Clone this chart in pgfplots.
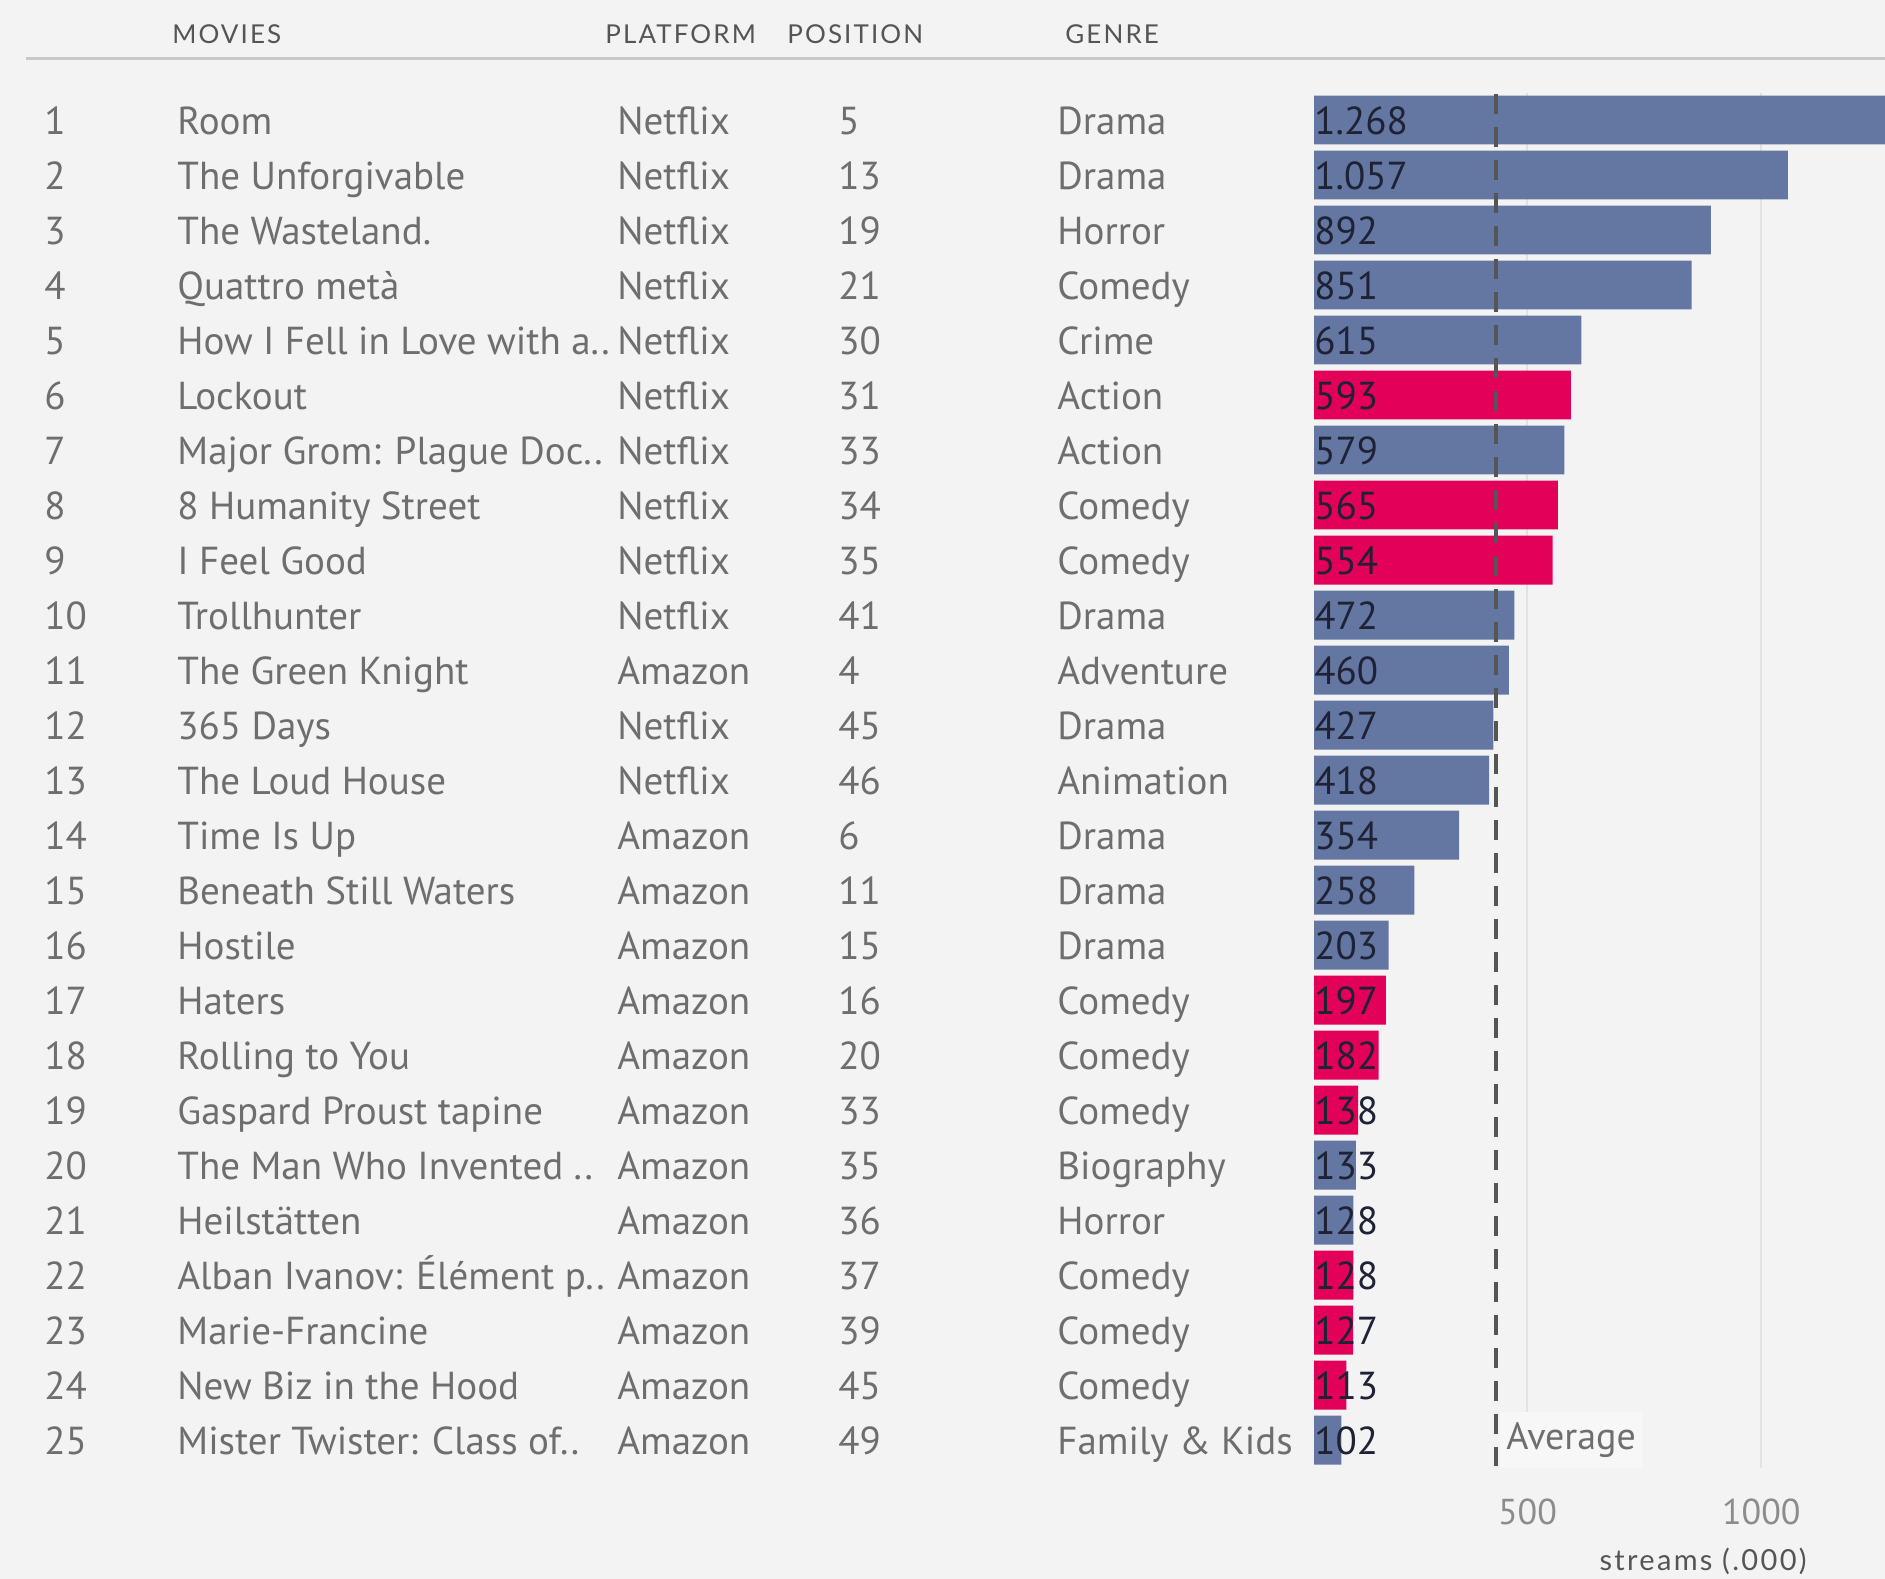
\documentclass[border=0pt]{standalone}
\usepackage{pgfplots}
\pgfplotsset{compat=1.18}
\usepackage{pgfplotstable}
\usepackage{fontspec}
\setmainfont{PT Sans}
\newfontfamily\hdfont{Lato}[LetterSpace=8.0]

\definecolor{bg}{RGB}{243,243,243}
\definecolor{barblue}{RGB}{100,119,162}
\definecolor{barpink}{RGB}{226,0,88}
\definecolor{txt}{RGB}{110,110,110}
\definecolor{hdr}{RGB}{85,85,85}
\definecolor{rulec}{RGB}{200,200,200}
\definecolor{gridc}{RGB}{226,226,226}
\definecolor{avgc}{RGB}{85,85,85}
\definecolor{lab}{RGB}{30,34,52}

% streams (.000), rows not highlighted
\pgfplotstableread{
row streams label
1 1268 1.268
2 1057 1.057
3 892 892
4 851 851
5 615 615
7 579 579
10 472 472
11 460 460
12 427 427
13 418 418
14 354 354
15 258 258
16 203 203
20 133 133
21 128 128
25 102 102
}\bluedata

% highlighted rows
\pgfplotstableread{
row streams label
6 593 593
8 565 565
9 554 554
17 197 197
18 182 182
19 138 138
22 128 128
23 127 127
24 113 113
}\pinkdata

\begin{document}
\begin{tikzpicture}[x=0.5pt,y=-0.5pt]
\fill[bg] (0,0) rectangle (1885,1579);

% header
\foreach \h/\x in {MOVIES/172,PLATFORM/605,POSITION/787,GENRE/1065}
  \node[anchor=west,inner sep=0pt,text=hdr,font=\hdfont\fontsize{13}{15}\selectfont] at (\x,34) {\h};
\draw[rulec,line width=1.5pt] (26,58) -- (1885,58);

% table columns
\foreach \r/\t/\p/\q/\g in {
1/Room/Netflix/5/Drama,
2/The Unforgivable/Netflix/13/Drama,
3/The Wasteland./Netflix/19/Horror,
4/Quattro metà/Netflix/21/Comedy,
5/How I Fell in Love with a../Netflix/30/Crime,
6/Lockout/Netflix/31/Action,
7/Major Grom: Plague Doc../Netflix/33/Action,
8/8 Humanity Street/Netflix/34/Comedy,
9/I Feel Good/Netflix/35/Comedy,
10/Trollhunter/Netflix/41/Drama,
11/The Green Knight/Amazon/4/Adventure,
12/365 Days/Netflix/45/Drama,
13/The Loud House/Netflix/46/Animation,
14/Time Is Up/Amazon/6/Drama,
15/Beneath Still Waters/Amazon/11/Drama,
16/Hostile/Amazon/15/Drama,
17/Haters/Amazon/16/Comedy,
18/Rolling to You/Amazon/20/Comedy,
19/Gaspard Proust tapine/Amazon/33/Comedy,
20/The Man Who Invented ../Amazon/35/Biography,
21/Heilstätten/Amazon/36/Horror,
22/Alban Ivanov: Élément p../Amazon/37/Comedy,
23/Marie-Francine/Amazon/39/Comedy,
24/New Biz in the Hood/Amazon/45/Comedy,
25/Mister Twister: Class of../Amazon/49/Family \& Kids}
{
  \pgfmathsetmacro\yy{134.5+(\r-1)*55}
  \begin{scope}[every node/.style={anchor=base west,inner sep=0pt,text=txt,font=\fontsize{19.5}{21}\selectfont}]
    \node at (44,\yy) {\r};
    \node at (177,\yy) {\t};
    \node at (617,\yy) {\p};
    \node at (838,\yy) {\q};
    \node at (1057,\yy) {\g};
  \end{scope}
}

\begin{axis}[
  at={(657pt,-733.75pt)}, anchor=south west,
  scale only axis, width=285.5pt, height=687.5pt,
  xmin=43.6, xmax=1264.5, ymin=0.5, ymax=25.5, y dir=reverse,
  axis line style={draw=none},
  ytick=\empty,
  xtick={500,1000}, xticklabels={500,1000},
  major tick length=0pt,
  xmajorgrids, grid style={draw=gridc,line width=1pt},
  /pgf/number format/assume math mode=true,
  xticklabel style={anchor=center,yshift=-22.25pt,text=gray!90,font=\fontsize{18}{20}\selectfont},
  clip=true,
]
\addplot[xbar, bar width=0.89, bar shift=0pt, fill=barblue, draw=none] table[x=streams,y=row] {\bluedata};
\addplot[xbar, bar width=0.89, bar shift=0pt, fill=barpink, draw=none] table[x=streams,y=row] {\pinkdata};
\node[anchor=west, xshift=2pt, fill=white!35!bg, inner xsep=3pt, inner ysep=5pt, text=txt, font=\fontsize{19}{21}\selectfont] at (axis cs:432.56,25) {Average};
\addplot[avgc, line width=2pt, dash pattern=on 10pt off 6.5pt] coordinates {(432.56,0.53) (432.56,25.47)};
\addplot[draw=none, mark=none, point meta=explicit symbolic, nodes near coords,
  nodes near coords style={anchor=base west, inner sep=0pt, yshift=-7pt, text=lab, font=\fontsize{19.5}{21}\selectfont}]
  table[x expr=43.6, y=row, meta=label] {\bluedata};
\addplot[draw=none, mark=none, point meta=explicit symbolic, nodes near coords,
  nodes near coords style={anchor=base west, inner sep=0pt, yshift=-7pt, text=lab, font=\fontsize{19.5}{21}\selectfont}]
  table[x expr=43.6, y=row, meta=label] {\pinkdata};
\end{axis}

\node[anchor=base east,inner sep=0pt,text=hdr,font=\hdfont\fontsize{14.5}{16}\selectfont] at (1807,1570) {streams (.000)};

\pgfresetboundingbox
\path[use as bounding box] (0,0) rectangle (1885,1579);
\end{tikzpicture}
\end{document}
